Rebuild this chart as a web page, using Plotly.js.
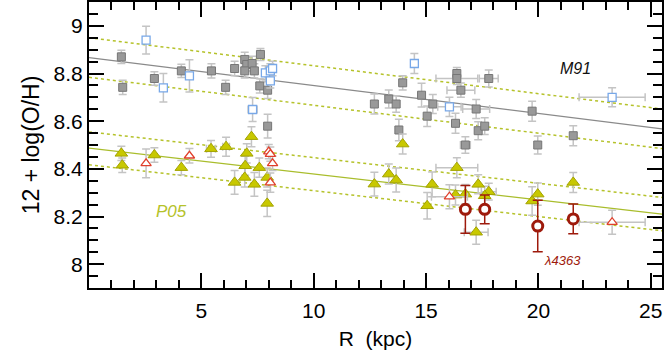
<!DOCTYPE html>
<html>
<head>
<meta charset="utf-8">
<script src="https://cdn.plot.ly/plotly-3.0.1.min.js"></script>
<style>
  html, body { margin: 0; padding: 0; background: #fff; }
  #graph-view { width: 664px; height: 356px; }
</style>
</head>
<body>
<div id="graph-view"></div>
<script>
// gray filled squares (M91 calibration)
const sqR   = [1.44, 1.50, 2.91, 4.11, 5.45, 6.08, 6.48, 6.93, 7.02, 7.26, 6.93, 7.36, 7.63, 7.60, 7.95, 7.95,
               12.70, 13.34, 13.67, 13.96, 14.80, 15.30, 15.05, 13.79, 16.37, 16.37, 16.55, 16.31, 16.75, 17.23,
               17.32, 17.61, 17.79, 19.72, 19.97, 21.55];
const sqOH  = [8.870, 8.742, 8.779, 8.811, 8.811, 8.742, 8.821, 8.859, 8.838, 8.842, 8.811, 8.811, 8.880, 8.748, 8.730, 8.579,
               8.672, 8.693, 8.672, 8.761, 8.709, 8.672, 8.621, 8.563, 8.800, 8.779, 8.730, 8.591, 8.500, 8.651,
               8.560, 8.579, 8.779, 8.642, 8.500, 8.539];
const sqErr = [0.028, 0.03, 0.028, 0.028, 0.03, 0.03, 0.03, 0.03, 0.03, 0.03, 0.03, 0.03, 0.025, 0.03, 0.035, 0.05,
               0.042, 0.038, 0.035, 0.03, 0.05, 0.04, 0.043, 0.045, 0.025, 0.025, 0.03, 0.042, 0.035, 0.04,
               0.038, 0.035, 0.036, 0.042, 0.038, 0.042];
const sqRErr = [NaN, NaN, NaN, NaN, 0.17, 0.15, NaN, NaN, NaN, NaN, NaN, NaN, NaN, NaN, NaN, NaN,
               NaN, NaN, NaN, NaN, NaN, NaN, NaN, NaN, NaN, 0.93, 0.62, NaN, 0.22, 0.6,
               NaN, NaN, 0.42, NaN, NaN, NaN];

// blue open squares
const bsqR    = [2.54, 3.31, 4.47, 7.28, 7.85, 8.07, 8.17, 8.07, 14.48, 16.04, 23.28];
const bsqOH   = [8.940, 8.740, 8.790, 8.649, 8.803, 8.811, 8.821, 8.769, 8.842, 8.660, 8.700];
const bsqErr  = [0.058, 0.06, 0.068, 0.05, 0.03, 0.03, 0.03, 0.03, 0.042, 0.04, 0.04];
const bsqRErr = [NaN, NaN, NaN, 0.2, NaN, NaN, NaN, NaN, NaN, 0.52, 1.47];

// yellow filled triangles (P05 calibration)
const triR   = [1.44, 1.48, 2.91, 4.11, 5.43, 6.10, 7.23, 7.02, 6.95, 7.58, 6.48, 6.93, 7.36, 7.93, 7.93,
                12.70, 13.34, 13.67, 13.96, 15.27, 15.05, 16.37, 16.31, 16.75, 17.32, 17.23, 17.79, 17.61,
                19.72, 19.97, 21.55];
const triOH  = [8.465, 8.415, 8.458, 8.405, 8.484, 8.493, 8.535, 8.465, 8.413, 8.405, 8.343, 8.364, 8.335, 8.364, 8.255,
                8.336, 8.378, 8.353, 8.504, 8.335, 8.245, 8.405, 8.290, 8.294, 8.335, 8.134, 8.304, 8.287,
                8.265, 8.294, 8.343];
const triErr = [0.03, 0.03, 0.03, 0.03, 0.035, 0.04, 0.042, 0.04, 0.04, 0.04, 0.05, 0.04, 0.05, 0.04, 0.055,
                0.05, 0.042, 0.05, 0.042, 0.052, 0.056, 0.042, 0.042, 0.04, 0.04, 0.05, 0.035, 0.04,
                0.06, 0.047, 0.042];
const triRErr = [NaN, NaN, NaN, NaN, 0.2, 0.15, NaN, NaN, NaN, NaN, NaN, NaN, NaN, NaN, NaN,
                NaN, NaN, NaN, NaN, NaN, NaN, 0.93, NaN, NaN, NaN, 0.53, 0.33, NaN,
                NaN, NaN, NaN];

// red open triangles
const rtriR    = [2.54, 4.47, 8.00, 8.07, 8.17, 8.07, 16.04, 23.28];
const rtriOH   = [8.423, 8.455, 8.472, 8.462, 8.423, 8.342, 8.283, 8.176];
const rtriErr  = [0.06, 0.03, 0.03, 0.03, 0.03, 0.04, 0.05, 0.05];
const rtriRErr = [NaN, NaN, NaN, NaN, NaN, NaN, 0.8, 1.47];

// lambda 4363 direct abundances
const auroR   = [16.75, 17.61, 19.97, 21.55];
const auroOH  = [8.230, 8.230, 8.160, 8.190];
const auroErr = [0.10, 0.06, 0.108, 0.062];

// gradient fits and their scatter bands
const fitR     = [0, 25.5];
const m91Fit   = [8.867, 8.568];
const m91Upper = [8.950, 8.651];
const m91Lower = [8.784, 8.485];
const p05Fit   = [8.487, 8.210];
const p05Upper = [8.555, 8.280];
const p05Lower = [8.417, 8.140];

const xTicks = [5, 10, 15, 20, 25];
const yTicks = [8, 8.2, 8.4, 8.6, 8.8, 9];

const errGray = '#c4c4c4';
const olive = '#b5c22a';
const fontFam = 'Liberation Sans, Arial, sans-serif';

function fitLine(y, color, dash, width) {
  return { x: fitR, y: y, mode: 'lines', type: 'scatter', hoverinfo: 'skip',
           line: { color: color, dash: dash, width: width } };
}

function errBars(arr) {
  return { type: 'data', array: arr, color: errGray, thickness: 1.5, width: 4 };
}

var data = [
  fitLine(m91Upper, olive, 'dot', 1.5),
  fitLine(m91Lower, olive, 'dot', 1.5),
  fitLine(p05Upper, olive, 'dot', 1.5),
  fitLine(p05Lower, olive, 'dot', 1.5),
  fitLine(m91Fit, '#8a8a8a', 'solid', 1.3),
  fitLine(p05Fit, '#a9bd2c', 'solid', 1.3),
  {
    x: sqR, y: sqOH, mode: 'markers', type: 'scatter',
    error_y: errBars(sqErr), error_x: errBars(sqRErr),
    marker: { symbol: 'square', size: 8, color: '#999999', line: { color: '#767676', width: 1 } }
  },
  {
    x: bsqR, y: bsqOH, mode: 'markers', type: 'scatter',
    error_y: errBars(bsqErr), error_x: errBars(bsqRErr),
    marker: { symbol: 'square', size: 8, color: '#ffffff', line: { color: '#78a8e8', width: 1.3 } }
  },
  {
    x: triR, y: triOH, mode: 'markers', type: 'scatter',
    error_y: errBars(triErr), error_x: errBars(triRErr),
    marker: { symbol: 'triangle-up', size: 11, color: '#c8c800', line: { color: '#a3a300', width: 1 } }
  },
  {
    x: rtriR, y: rtriOH, mode: 'markers', type: 'scatter',
    error_y: errBars(rtriErr), error_x: errBars(rtriRErr),
    marker: { symbol: 'triangle-up', size: 9, color: '#ffffff', line: { color: '#e0402c', width: 1.3 } }
  },
  {
    x: auroR, y: auroOH, mode: 'markers', type: 'scatter',
    error_y: { type: 'data', array: auroErr, color: '#9e1a0c', thickness: 1.5, width: 5 },
    marker: { symbol: 'circle', size: 10, color: '#ffffff', line: { color: '#9e1a0c', width: 3 } }
  }
];

var axisCommon = {
  showline: true, linecolor: '#000', linewidth: 2, mirror: 'ticks',
  ticks: 'inside', ticklen: 15, tickwidth: 2, tickcolor: '#000',
  showgrid: false, zeroline: false,
  tickfont: { family: fontFam, size: 21, color: '#000' }
};

var layout = {
  width: 664, height: 356,
  margin: { l: 89, r: 2, t: 2, b: 68 },
  paper_bgcolor: '#fff', plot_bgcolor: '#fff',
  showlegend: false,
  font: { family: fontFam, color: '#000' },
  xaxis: Object.assign({}, axisCommon, {
    range: [0, 25.5], tickmode: 'array', tickvals: xTicks, ticktext: xTicks.map(String),
    ticklabelstandoff: 3,
    minor: { dtick: 1, tick0: 0, ticks: 'inside', ticklen: 8, tickwidth: 2, tickcolor: '#000' },
    title: { text: 'R\u00a0\u00a0(kpc)', font: { size: 21 }, standoff: 10 }
  }),
  yaxis: Object.assign({}, axisCommon, {
    range: [7.9, 9.1], tickmode: 'array', tickvals: yTicks, ticktext: yTicks.map(String),
    minor: { dtick: 0.05, tick0: 8, ticks: 'inside', ticklen: 9, tickwidth: 2, tickcolor: '#000' },
    title: { text: '12 + log(O/H)', font: { size: 23 }, standoff: 8 }
  }),
  annotations: [
    { x: 21.65, y: 8.823, text: 'M91', showarrow: false,
      font: { family: fontFam, size: 16, color: '#111' } },
    { x: 3.63, y: 8.22, text: 'P05', showarrow: false,
      font: { family: fontFam, size: 17, color: olive } },
    { x: 21.06, y: 8.015, text: '\u03bb4363', showarrow: false,
      font: { family: fontFam, size: 13, color: '#9e1a0c' } }
  ]
};

Plotly.newPlot('graph-view', data, layout, { staticPlot: true }).then(function () {
  // italic labels, as in the printed figure
  document.querySelectorAll('.annotation-text').forEach(function (t) { t.style.fontStyle = 'italic'; });
});
</script>
</body>
</html>
